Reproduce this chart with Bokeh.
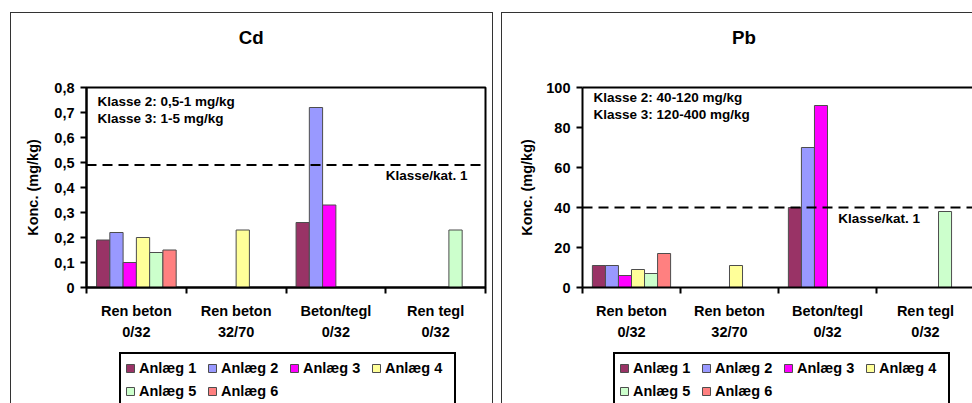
from bokeh.plotting import figure
from bokeh.models import (ColumnDataSource, FixedTicker, LinearAxis, Legend,
                          LegendItem, Label, Span, Range1d)
from bokeh.layouts import row, column
from bokeh.transform import dodge
from bokeh.embed import file_html
from bokeh.resources import INLINE

# ---- data -------------------------------------------------------------
categories = ["Ren beton\n0/32", "Ren beton\n32/70", "Beton/tegl\n0/32", "Ren tegl\n0/32"]
plants = ["Anlæg 1", "Anlæg 2", "Anlæg 3", "Anlæg 4", "Anlæg 5", "Anlæg 6"]
colors = ["#993366", "#9999FF", "#FF00FF", "#FFFF99", "#CCFFCC", "#FF8080"]

# Cd (mg/kg) per plant and material category; None = no sample
cd_anlaeg1 = [0.19, None, 0.26, None]
cd_anlaeg2 = [0.22, None, 0.72, None]
cd_anlaeg3 = [0.10, None, 0.33, None]
cd_anlaeg4 = [0.20, 0.23, None, None]
cd_anlaeg5 = [0.14, None, None, 0.23]
cd_anlaeg6 = [0.15, None, None, None]

# Pb (mg/kg)
pb_anlaeg1 = [11, None, 40, None]
pb_anlaeg2 = [11, None, 70, None]
pb_anlaeg3 = [6, None, 91, None]
pb_anlaeg4 = [9, 11, None, None]
pb_anlaeg5 = [7, None, None, 38]
pb_anlaeg6 = [17, None, None, None]

cd_ticks = [0, 0.1, 0.2, 0.3, 0.4, 0.5, 0.6, 0.7, 0.8]
cd_tick_labels = ["0", "0,1", "0,2", "0,3", "0,4", "0,5", "0,6", "0,7", "0,8"]
pb_ticks = [0, 20, 40, 60, 80, 100]
pb_tick_labels = ["0", "20", "40", "60", "80", "100"]

cd_limit = 0.49   # Klasse/kat. 1 limit as drawn
pb_limit = 40

cd_notes = ["Klasse 2: 0,5-1 mg/kg", "Klasse 3: 1-5 mg/kg"]
pb_notes = ["Klasse 2: 40-120 mg/kg", "Klasse 3: 120-400 mg/kg"]
limit_text = "Klasse/kat. 1"
y_title = "Konc. (mg/kg)"

FONT = "Liberation Sans"
BAR_W = 0.133
EDGE = "1px solid #333"


def bare_figure(width, height):
    p = figure(width=width, height=height, x_range=Range1d(0, 1),
               y_range=Range1d(0, 1), output_backend="svg",
               toolbar_location=None, x_axis_type=None, y_axis_type=None,
               min_border=0, outline_line_color=None,
               background_fill_color="white", border_fill_color="white")
    p.xgrid.visible = False
    p.ygrid.visible = False
    return p


def title_figure(text, width):
    # frame is aligned with the chart's plot area below it
    p = bare_figure(width, 41)
    p.add_layout(Label(x=0.413, y=0.41, text=text, text_font=FONT,
                       text_font_style="bold", text_font_size="18.7px",
                       text_align="center", text_baseline="middle",
                       text_color="black"))
    return p


def legend_figure(width, legend_x):
    p = bare_figure(width, 53)
    # swatch proxies: one bar each, placed below the visible range
    proxy = ColumnDataSource(dict(x=[0.5], top=[-1.0], bottom=[-2.0]))
    items = []
    for name, col in zip(plants, colors):
        r = p.vbar(x="x", top="top", bottom="bottom", width=0.1, source=proxy,
                   fill_color=col, line_color="#4d4d4d", line_width=1)
        items.append(LegendItem(label=name, renderers=[r]))
    legend = Legend(items=items, orientation="horizontal", ncols=4,
                    location=(legend_x, -4), glyph_width=10, glyph_height=10,
                    label_standoff=4, label_width=65, label_height=20,
                    padding=4, spacing=3, margin=0,
                    border_line_color="black", border_line_width=2,
                    border_line_alpha=1.0,
                    background_fill_color="white", background_fill_alpha=1,
                    label_text_font=FONT, label_text_font_style="bold",
                    label_text_font_size="14.5px", label_text_color="black")
    p.add_layout(legend)
    return p


def chart_figure(series, ticks, tick_labels, y_max, x_end, limit, notes,
                 note_pos, limit_pos, width, left, right, closed,
                 label_standoff):
    p = figure(width=width, height=297, x_range=Range1d(0, x_end),
               y_range=Range1d(0, y_max), output_backend="svg",
               toolbar_location=None, min_border_left=left,
               min_border_right=right, min_border_top=34,
               min_border_bottom=63, background_fill_color="white",
               border_fill_color="white")
    p.xgrid.visible = False
    p.ygrid.visible = False

    xa = p.xaxis[0]
    xa.ticker = FixedTicker(ticks=[i + 0.5 for i in range(len(categories))],
                            minor_ticks=list(range(len(categories) + 1)))
    xa.major_label_overrides = {i + 0.5: c for i, c in enumerate(categories)}
    xa.major_tick_out = 0
    xa.major_tick_in = 0
    xa.minor_tick_out = 6
    xa.minor_tick_in = 0
    xa.minor_tick_line_width = 2
    xa.minor_tick_line_color = "black"
    xa.axis_line_width = 2
    xa.axis_line_color = "black"
    xa.major_label_standoff = 9
    xa.major_label_text_font = FONT
    xa.major_label_text_font_style = "bold"
    xa.major_label_text_font_size = "14.5px"
    xa.major_label_text_color = "black"
    xa.major_label_text_line_height = 1.35

    ya = p.yaxis[0]
    ya.ticker = FixedTicker(ticks=ticks)
    ya.major_label_overrides = {t: l for t, l in zip(ticks, tick_labels)}
    ya.major_tick_out = 6
    ya.major_tick_in = 0
    ya.minor_tick_out = 0
    ya.minor_tick_in = 0
    ya.major_tick_line_width = 2
    ya.major_tick_line_color = "black"
    ya.axis_line_width = 2
    ya.axis_line_color = "black"
    ya.major_label_standoff = 6
    ya.major_label_text_font = FONT
    ya.major_label_text_font_style = "bold"
    ya.major_label_text_font_size = "14.5px"
    ya.major_label_text_color = "black"
    ya.axis_label = y_title
    ya.axis_label_text_font = FONT
    ya.axis_label_text_font_style = "bold"
    ya.axis_label_text_font_size = "14.5px"
    ya.axis_label_text_color = "black"
    ya.axis_label_standoff = label_standoff

    if closed:
        p.outline_line_color = "black"
        p.outline_line_width = 2
        p.outline_line_alpha = 1.0
    else:
        # plot area runs past the right edge: only its top edge is drawn
        p.outline_line_color = None
        top = LinearAxis(ticker=FixedTicker(ticks=[]),
                         major_label_text_font_size="0px",
                         major_tick_out=0, major_tick_in=0,
                         minor_tick_out=0, minor_tick_in=0,
                         axis_line_width=2, axis_line_color="black")
        p.add_layout(top, "above")

    for k, (vals, col) in enumerate(zip(series, colors)):
        xs = [i + 0.5 for i, v in enumerate(vals) if v is not None]
        tops = [v for v in vals if v is not None]
        src = ColumnDataSource(dict(x=xs, top=tops))
        p.vbar(x=dodge("x", (k - 2.5) * BAR_W, range=p.x_range),
               top="top", width=BAR_W, bottom=0, source=src,
               fill_color=col, line_color="#4d4d4d", line_width=1)

    p.add_layout(Span(location=limit, dimension="width", line_color="black",
                      line_width=2, line_dash="10 6"))

    for txt, (nx, ny) in zip(notes, note_pos):
        p.add_layout(Label(x=nx, y=ny, text=txt, text_font=FONT,
                           text_font_style="bold", text_font_size="13.5px",
                           text_baseline="middle", text_color="black"))
    p.add_layout(Label(x=limit_pos[0], y=limit_pos[1], text=limit_text,
                       text_font=FONT, text_font_style="bold",
                       text_font_size="13.5px", text_baseline="middle",
                       text_color="black"))
    return p


cd_series = [cd_anlaeg1, cd_anlaeg2, cd_anlaeg3, cd_anlaeg4, cd_anlaeg5, cd_anlaeg6]
pb_series = [pb_anlaeg1, pb_anlaeg2, pb_anlaeg3, pb_anlaeg4, pb_anlaeg5, pb_anlaeg6]

# left panel: Cd
cd_title = title_figure("Cd", 483)
cd_chart = chart_figure(cd_series, cd_ticks, cd_tick_labels, 0.8, 4, cd_limit,
                        cd_notes, [(0.11, 0.744), (0.11, 0.676)], (3.0, 0.448),
                        width=483, left=75, right=9, closed=True,
                        label_standoff=10)
cd_legend = legend_figure(483, 33)

# right panel: Pb (continues past the right edge)
pb_title = title_figure("Pb", 471)
pb_chart = chart_figure(pb_series, pb_ticks, pb_tick_labels, 100, 3.99, pb_limit,
                        pb_notes, [(0.113, 95), (0.113, 86.5)], (2.61, 34.5),
                        width=471, left=80, right=0, closed=False,
                        label_standoff=8)
pb_legend = legend_figure(471, 31)

cd_title.styles = {"border-left": EDGE, "border-top": EDGE, "border-right": EDGE}
cd_chart.styles = {"border-left": EDGE, "border-right": EDGE}
cd_legend.styles = {"border-left": EDGE, "border-right": EDGE}
pb_title.styles = {"border-left": EDGE, "border-top": EDGE}
pb_chart.styles = {"border-left": EDGE}
pb_legend.styles = {"border-left": EDGE}

left_panel = column(cd_title, cd_chart, cd_legend, spacing=0)
right_panel = column(pb_title, pb_chart, pb_legend, spacing=0)
left_panel.margin = (12, 0, 0, 10)
right_panel.margin = (12, 0, 0, 8)

layout = row(left_panel, right_panel, spacing=0)
open("out.html", "w").write(file_html(layout, INLINE))
